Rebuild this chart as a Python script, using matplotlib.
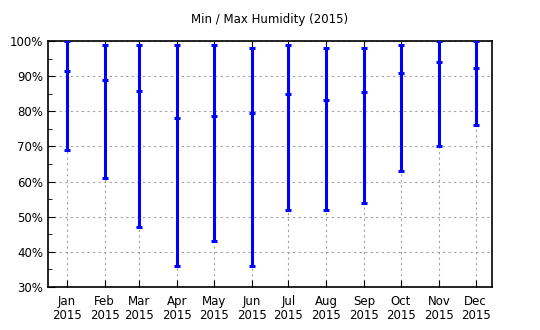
import matplotlib
matplotlib.use("Agg")
import matplotlib.pyplot as plt
import matplotlib.dates as mdates
from matplotlib.ticker import MultipleLocator, FuncFormatter
import datetime as dt

months = ["Jan", "Feb", "Mar", "Apr", "May", "Jun", "Jul", "Aug", "Sep", "Oct", "Nov", "Dec"]
year = 2015
hum_max = [100, 99, 99, 99, 99, 98, 99, 98, 98, 99, 100, 100]
hum_avg = [91.5, 88.9, 85.8, 78.2, 78.7, 79.6, 84.9, 83.2, 85.5, 91.0, 94.1, 92.3]
hum_min = [69.0, 61.1, 47.1, 36.0, 43.1, 36.0, 51.9, 52.0, 54.0, 63.0, 70.1, 76.1]

dates = [dt.datetime(year, m, 1) for m in range(1, 13)]

fig = plt.figure(figsize=(5.4, 3.3), dpi=100)
ax = fig.add_axes([0.0889, 0.1303, 0.8222, 0.7455])

blue = "#0000ff"
ax.vlines(dates, hum_min, hum_max, color=blue, lw=2.2, zorder=3)
for vals in (hum_min, hum_avg, hum_max):
    ax.plot(dates, vals, ls="none", marker="_", ms=4, mew=2.2, color=blue, zorder=4)

ax.set_ylim(30, 100)
ax.set_xlim(dt.datetime(2014, 12, 16, 16), dt.datetime(2015, 12, 14, 8))
ax.yaxis.set_major_locator(MultipleLocator(10))
ax.yaxis.set_minor_locator(MultipleLocator(5))
ax.yaxis.set_major_formatter(FuncFormatter(lambda v, p: f"{int(v)}%"))
ax.set_xticks(dates)
ax.set_xticklabels([f"{m}\n{year}" for m in months], linespacing=1.05)

ax.grid(True, which="major", color="#a0a0a0", ls=(0, (2, 3)), lw=0.8)
ax.tick_params(axis="both", which="both", direction="in", labelsize=8.5, colors="black")
ax.tick_params(axis="x", top=True, length=5)
ax.tick_params(axis="y", which="major", length=5)
ax.tick_params(axis="y", which="minor", length=3)
ax.tick_params(axis="x", pad=6)
for s in ax.spines.values():
    s.set_linewidth(1.2)

fig.text(0.5, 0.94, "Min / Max Humidity (2015)", ha="center", va="center", fontsize=8.5)

fig.savefig("out.png", dpi=100)
